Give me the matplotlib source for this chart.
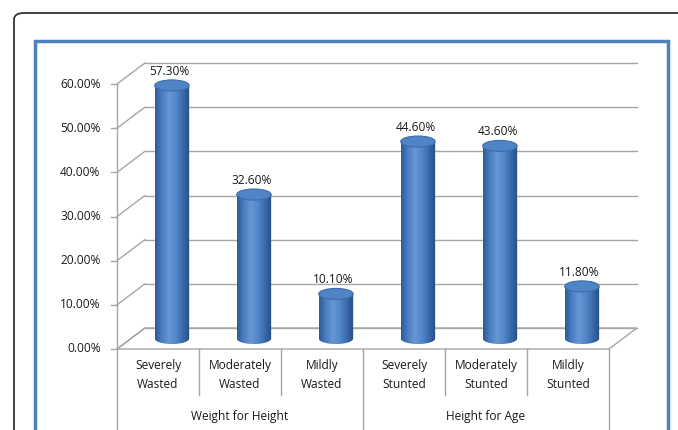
import numpy as np
import matplotlib.pyplot as plt
from matplotlib.patches import Polygon, Ellipse, PathPatch, FancyBboxPatch, Rectangle
from matplotlib.path import Path
from matplotlib.colors import LinearSegmentedColormap

plt.rcParams['font.family'] = ['Open Sans', 'DejaVu Sans']

# data
categories = ["Severely\nWasted", "Moderately\nWasted", "Mildly\nWasted",
              "Severely\nStunted", "Moderately\nStunted", "Mildly\nStunted"]
values = [0.573, 0.326, 0.101, 0.446, 0.436, 0.118]
groups = ["Weight for Height", "Height for Age"]
group_sizes = [3, 3]
yticks = [0.0, 0.1, 0.2, 0.3, 0.4, 0.5, 0.6]

# pseudo-3d depth offset (in data units)
dx, dy = 0.34, 0.0475
half_w = 0.21
ell_h = 0.0125
fs = 8.6

fig = plt.figure(figsize=(6.78, 4.30), dpi=100)

# outer rounded frame and blue chart frame
fig.patches.append(FancyBboxPatch((14 / 678, -0.1), 1.2, (430 - 13) / 430 + 0.1,
                                  boxstyle="round,pad=0,rounding_size=0.015",
                                  transform=fig.transFigure, fill=False,
                                  edgecolor="#333333", linewidth=1.3))
fig.patches.append(Rectangle((35 / 678, -0.1), (668 - 35) / 678, (430 - 41) / 430 + 0.1,
                             transform=fig.transFigure, fill=False,
                             edgecolor="#4F81BD", linewidth=2.5))

ax = fig.add_axes([117 / 678, (430 - 349) / 430, 492 / 678, 265 / 430])
ax.axis("off")

xl, xr = -0.5, len(values) - 0.5
grid_c = "#A6A6A6"
txt_c = "#1a1a1a"

# floor
ax.add_patch(Polygon([(xl, 0), (xr, 0), (xr + dx, dy), (xl + dx, dy)], closed=True,
                     facecolor="white", edgecolor=grid_c, lw=1, clip_on=False, zorder=1))
# back wall gridlines + side wall diagonals
for v in yticks:
    ax.plot([xl + dx, xr + dx], [v + dy, v + dy], color=grid_c, lw=1, clip_on=False, zorder=1)
    ax.plot([xl, xl + dx], [v, v + dy], color=grid_c, lw=1, clip_on=False, zorder=1)
    ax.plot([xl - 0.07, xl], [v, v], color=grid_c, lw=1, clip_on=False, zorder=1)
    ax.text(xl - 0.2, v, f"{v * 100:.2f}%", ha="right", va="center",
            fontsize=fs, color=txt_c)
ax.plot([xl, xl], [0, 0.6], color=grid_c, lw=1, clip_on=False, zorder=1)

# cylinders
cmap = LinearSegmentedColormap.from_list(
    "cyl", ["#2C5A97", "#4A7EC2", "#6797D4", "#5287C9", "#3A6AAB", "#244E86"])
grad = np.linspace(0, 1, 256).reshape(1, -1)
for i, v in enumerate(values):
    cx = i + dx / 2
    base = dy / 2
    top = v + dy / 2
    t = np.linspace(np.pi, 2 * np.pi, 60)
    arc = np.column_stack([cx + half_w * np.cos(t), base + ell_h * np.sin(t)])
    verts = np.vstack([[cx - half_w, top], arc, [cx + half_w, top], [cx - half_w, top]])
    body = PathPatch(Path(verts, closed=True), facecolor="none", edgecolor="none", zorder=3)
    ax.add_patch(body)
    im = ax.imshow(grad, cmap=cmap, aspect="auto", zorder=3,
                   extent=[cx - half_w, cx + half_w, base - ell_h, top])
    im.set_clip_path(body)
    ax.add_patch(Ellipse((cx, top), 2 * half_w, 2 * ell_h, facecolor="#4F84C6",
                         edgecolor="#3E6DAA", lw=0.8, zorder=4, clip_on=False))
    ax.text(cx - 0.03, top + ell_h + 0.005, f"{v * 100:.2f}%", ha="center", va="bottom",
            fontsize=fs, color=txt_c, zorder=5)
ax.set_xlim(xl, xr)
ax.set_ylim(0, 0.6)

# category axis
for i, c in enumerate(categories):
    ax.text(i, -0.0595, c, ha="center", va="center", fontsize=fs, color=txt_c,
            linespacing=1.6)
for b in [0.5, 1.5, 3.5, 4.5]:
    ax.plot([b, b], [0, -0.104], color=grid_c, lw=1, clip_on=False)
start = xl
for g, n in zip(groups, group_sizes):
    ax.plot([start, start], [0, -0.185], color=grid_c, lw=1, clip_on=False)
    ax.text(start + n / 2, -0.153, g, ha="center", va="center", fontsize=fs, color=txt_c)
    start += n
ax.plot([start, start], [0, -0.185], color=grid_c, lw=1, clip_on=False)

fig.savefig("out.png", dpi=100)
